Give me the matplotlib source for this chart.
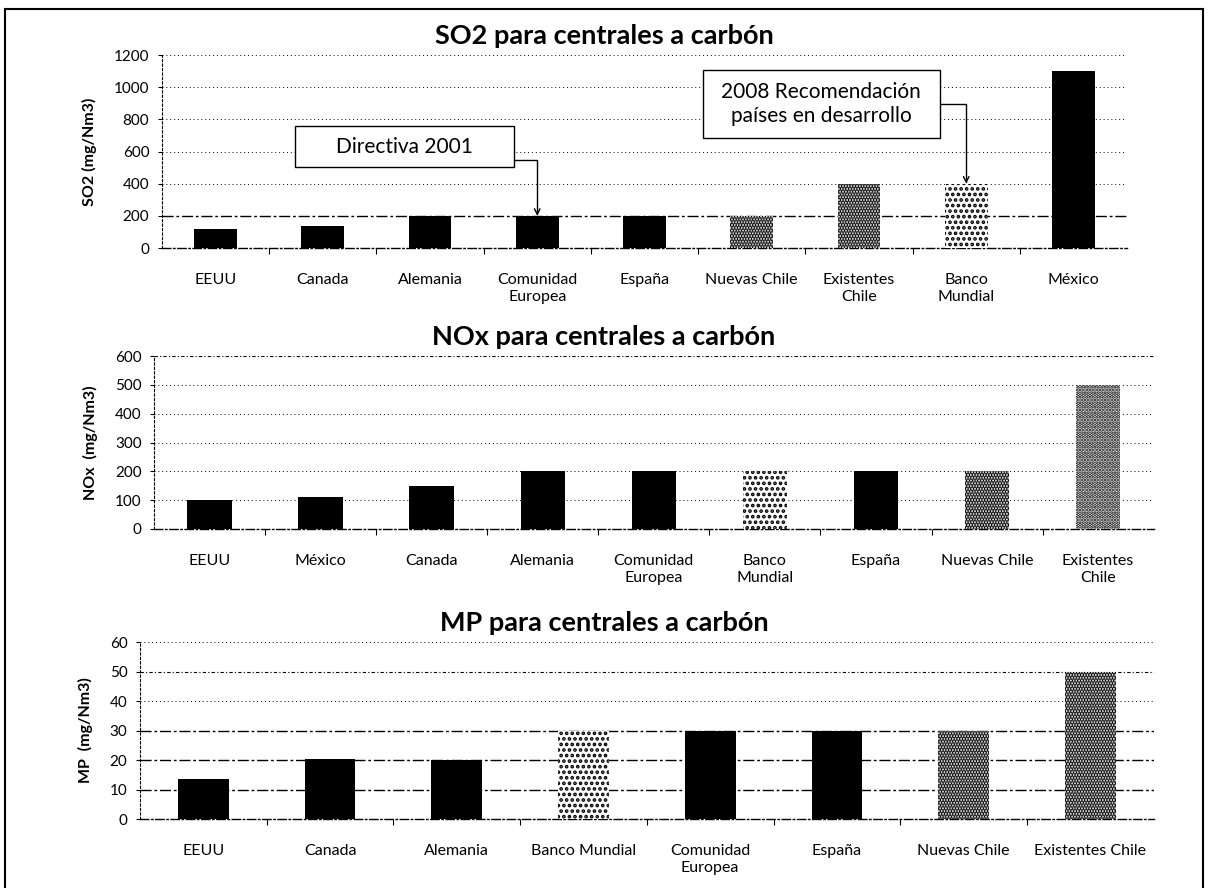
import matplotlib
matplotlib.use("Agg")
import matplotlib.pyplot as plt
import matplotlib.patches as mpatches
import numpy as np

plt.rcParams['font.family'] = ['Lato', 'DejaVu Sans']
plt.rcParams['hatch.color'] = 'black'
plt.rcParams['hatch.linewidth'] = 1.8

# SO2 limits (mg/Nm3)
so2_labels = ["EEUU", "Canada", "Alemania", "Comunidad\nEuropea", "España",
              "Nuevas Chile", "Existentes\nChile", "Banco\nMundial", "México"]
so2_values = [117, 140, 200, 200, 200, 200, 400, 400, 1100]
so2_fill = ["solid", "solid", "solid", "solid", "solid", "dense", "dense", "light", "solid"]

# NOx limits (mg/Nm3)
nox_labels = ["EEUU", "México", "Canada", "Alemania", "Comunidad\nEuropea",
              "Banco\nMundial", "España", "Nuevas Chile", "Existentes\nChile"]
nox_values = [100, 110, 150, 200, 200, 200, 200, 200, 500]
nox_fill = ["solid", "solid", "solid", "solid", "solid", "light", "solid", "dense", "medium"]

# MP limits (mg/Nm3)
mp_labels = ["EEUU", "Canada", "Alemania", "Banco Mundial", "Comunidad\nEuropea",
             "España", "Nuevas Chile", "Existentes Chile"]
mp_values = [13.6, 20.5, 20, 30, 30, 30, 30, 50]
mp_fill = ["solid", "solid", "solid", "light", "solid", "solid", "dense", "dense"]

HATCH = {"light": "...", "medium": ".....", "dense": "......"}


def draw_panel(fig, ax, labels, values, fill, title, ylabel, ymax, ystep, strong, medium):
    x = np.arange(len(labels))
    for xi, v, f in zip(x, values, fill):
        if f == "solid":
            ax.bar(xi, v, width=0.4, color='black', zorder=3)
        else:
            ax.bar(xi, v, width=0.4, facecolor='white', edgecolor='black',
                   linewidth=0, hatch=HATCH[f], zorder=3)

    ax.set_xlim(-0.5, len(labels) - 0.5)
    ax.set_ylim(0, ymax)
    ax.set_yticks(np.arange(0, ymax + ystep, ystep))
    ax.set_xticks(x)
    ax.set_xticklabels(labels, fontsize=11.5, linespacing=1.3)
    ax.set_xticks(np.arange(0.5, len(labels) - 1, 1), minor=True)
    ax.tick_params(axis='x', which='major', length=0, pad=18)
    ax.tick_params(axis='x', which='minor', length=4, width=0.8, direction='out')
    ax.tick_params(axis='y', length=3, width=0.8, labelsize=11, pad=6)

    ax.set_axisbelow(True)
    ax.yaxis.grid(True, color='black', linestyle=(0, (1, 3)), linewidth=0.7)
    ticks = list(ax.get_yticks())
    for line, t in zip(ax.get_ygridlines(), ticks):
        if t in strong:
            line.set_linestyle((0, (8, 2, 2, 2)))
            line.set_linewidth(1.0)
        elif t in medium:
            line.set_linestyle((0, (3, 2, 1, 2)))
            line.set_linewidth(0.8)

    for side in ('top', 'right'):
        ax.spines[side].set_visible(False)
    ax.spines['left'].set_linestyle((0, (2, 2)))
    ax.spines['left'].set_linewidth(0.8)
    ax.spines['bottom'].set_linestyle((0, (6, 2, 1, 2)))
    ax.spines['bottom'].set_linewidth(1.0)

    # titles are centred on the whole figure width
    top = ax.get_position().y1
    fig.text(0.5, top + 0.008, title, ha='center', va='bottom',
             fontsize=19.5, fontweight='bold')
    ax.set_ylabel(ylabel, fontsize=11.5, fontweight='bold', labelpad=12)


fig = plt.figure(figsize=(12.08, 8.88), dpi=100)

ax1 = fig.add_axes([0.134, 0.7207, 0.799, 0.2173])
ax2 = fig.add_axes([0.1275, 0.4043, 0.8275, 0.1947])
ax3 = fig.add_axes([0.1159, 0.0777, 0.8391, 0.1993])

draw_panel(fig, ax1, so2_labels, so2_values, so2_fill, "SO2 para centrales a carbón",
           "SO2 (mg/Nm3)", 1200, 200, strong=[200], medium=[])
draw_panel(fig, ax2, nox_labels, nox_values, nox_fill, "NOx para centrales a carbón",
           "NOx  (mg/Nm3)", 600, 100, strong=[], medium=[600])
draw_panel(fig, ax3, mp_labels, mp_values, mp_fill, "MP para centrales a carbón",
           "MP  (mg/Nm3)", 60, 10, strong=[10, 20, 30], medium=[50])

# Callout boxes on the SO2 chart
ax1.add_patch(mpatches.Rectangle((0.138, 0.42), 0.227, 0.212, transform=ax1.transAxes,
                                 facecolor='white', edgecolor='black', linewidth=1.0,
                                 clip_on=False, zorder=5))
ax1.text(0.2515, 0.526, "Directiva 2001", transform=ax1.transAxes, ha='center',
         va='center', fontsize=15, zorder=6)
ce = so2_labels.index("Comunidad\nEuropea")
ax1.annotate("", xy=(ce, so2_values[ce]), xycoords='data',
             xytext=(0.365, 0.456), textcoords='axes fraction',
             arrowprops=dict(arrowstyle='->', color='black', lw=1.0,
                             connectionstyle='angle,angleA=0,angleB=90,rad=0',
                             shrinkA=0, shrinkB=0), zorder=6)

ax1.add_patch(mpatches.Rectangle((0.5606, 0.570), 0.2456, 0.352, transform=ax1.transAxes,
                                 facecolor='white', edgecolor='black', linewidth=1.0,
                                 clip_on=False, zorder=5))
ax1.text(0.683, 0.746, "2008 Recomendación\npaíses en desarrollo", transform=ax1.transAxes,
         ha='center', va='center', fontsize=15, linespacing=1.2, zorder=6)
bm = so2_labels.index("Banco\nMundial")
ax1.annotate("", xy=(bm, so2_values[bm]), xycoords='data',
             xytext=(0.806, 0.746), textcoords='axes fraction',
             arrowprops=dict(arrowstyle='->', color='black', lw=1.0,
                             connectionstyle='angle,angleA=0,angleB=90,rad=0',
                             shrinkA=0, shrinkB=0), zorder=6)

# outer frame
fig.add_artist(mpatches.Rectangle((0.0045, -0.01), 0.991, 1.0, transform=fig.transFigure,
                                  fill=False, edgecolor='black', linewidth=1.5))

fig.savefig("out.png", dpi=100)
